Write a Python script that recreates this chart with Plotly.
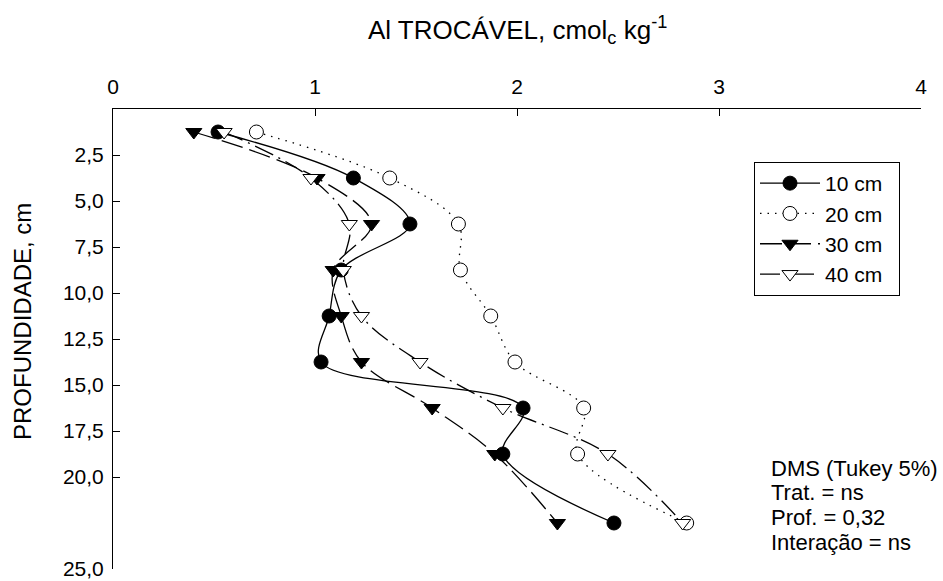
import plotly.graph_objects as go

# Sampling depths (cm) and exchangeable Al (cmolc/kg) per treatment
depth = [1.25, 3.75, 6.25, 8.75, 11.25, 13.75, 16.25, 18.75, 22.5]
al_10cm = [0.52, 1.19, 1.47, 1.13, 1.07, 1.03, 2.03, 1.93, 2.48]
al_20cm = [0.71, 1.37, 1.71, 1.72, 1.87, 1.99, 2.33, 2.30, 2.84]
al_30cm = [0.40, 1.01, 1.28, 1.09, 1.13, 1.23, 1.58, 1.89, 2.20]
al_40cm = [0.55, 0.98, 1.17, 1.14, 1.23, 1.52, 1.93, 2.45, 2.82]

x_ticks = [0, 1, 2, 3, 4]
y_ticks = [2.5, 5.0, 7.5, 10.0, 12.5, 15.0, 17.5, 20.0, 25.0]
y_tick_text = ["2,5", "5,0", "7,5", "10,0", "12,5", "15,0", "17,5", "20,0", "25,0"]

stats_lines = ["DMS (Tukey 5%)", "Trat. = ns", "Prof. = 0,32", "Interação = ns"]

series = [
    ("10 cm", al_10cm, "solid", "circle", "black"),
    ("20 cm", al_20cm, "1.5px,6px", "circle", "white"),
    ("30 cm", al_30cm, "22px,7px", "triangle-down", "black"),
    ("40 cm", al_40cm, "20px,6px,2px,6px", "triangle-down", "white"),
]

FONT = "Liberation Sans, Arial, Helvetica, sans-serif"

# plot area in pixels
L, R, T, B = 113, 921, 109, 569
W, H = 943, 581


def px_x(px):
    return (px - L) / (R - L)


def px_y(py):
    return (B - py) / (B - T)


fig = go.Figure()
for name, vals, dash, symbol, fill in series:
    fig.add_trace(go.Scatter(
        x=vals, y=depth, name=name + "\u00a0\u00a0", mode="lines+markers",
        line=dict(color="black", width=1.3, dash=dash, shape="spline", smoothing=1),
        marker=dict(symbol=symbol, size=14, color=fill,
                    line=dict(color="black", width=1)),
    ))

fig.update_layout(
    width=W, height=H,
    margin=dict(l=L, r=W - R, t=T, b=H - B, autoexpand=False),
    paper_bgcolor="white", plot_bgcolor="white",
    font=dict(family=FONT, size=21, color="black"),
    showlegend=True,
    legend=dict(
        x=px_x(754), y=px_y(162), xanchor="left", yanchor="top",
        bordercolor="black", borderwidth=1, bgcolor="white",
        font=dict(size=21), itemwidth=60,
    ),
    xaxis=dict(
        side="top", range=[0, 4], tickvals=x_ticks, ticktext=[str(v) for v in x_ticks],
        showline=True, linecolor="black", linewidth=1, mirror=False, automargin=False,
        ticks="inside", ticklen=7, tickcolor="black", showgrid=False, zeroline=False,
        tickfont=dict(size=21), ticklabelstandoff=6, ticklabeloverflow="allow",
    ),
    yaxis=dict(
        range=[25, 0], tickvals=y_ticks, ticktext=y_tick_text,
        showline=True, linecolor="black", linewidth=1, mirror=False, automargin=False,
        ticks="inside", ticklen=7, tickcolor="black", showgrid=False, zeroline=False,
        tickfont=dict(size=21), ticklabelstandoff=4, ticklabeloverflow="allow",
    ),
)

fig.add_annotation(
    xref="paper", yref="paper", x=0.5, y=px_y(30),
    xanchor="center", yanchor="middle", showarrow=False,
    text="Al TROCÁVEL, cmol<sub>c</sub> kg<sup>-1</sup>", font=dict(size=26),
)
fig.add_annotation(
    xref="paper", yref="paper", x=px_x(22), y=px_y(322),
    xanchor="center", yanchor="middle", showarrow=False, textangle=-90,
    text="PROFUNDIDADE, cm", font=dict(size=24),
)
for i, line in enumerate(stats_lines):
    fig.add_annotation(
        xref="paper", yref="paper", x=px_x(769), y=px_y(468 + 24.7 * i),
        xanchor="left", yanchor="middle", align="left", showarrow=False,
        text=line, font=dict(size=22),
    )

fig.write_html("out.html")
